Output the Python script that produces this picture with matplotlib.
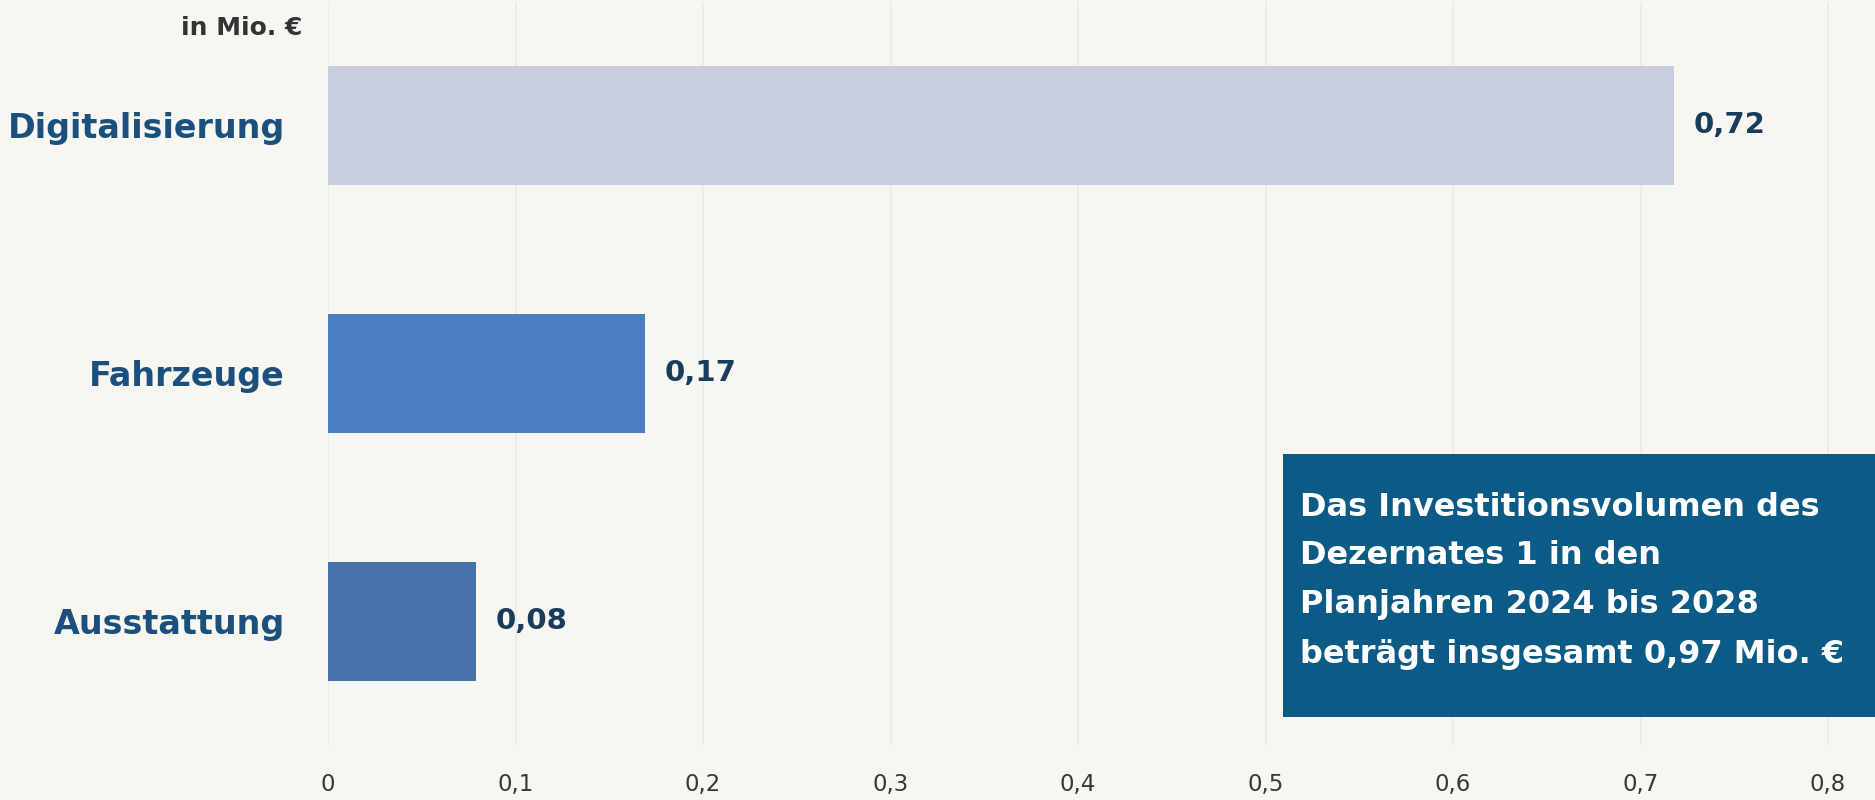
import matplotlib.pyplot as plt
from matplotlib.patches import Rectangle

# data (in Mio. EUR)
categories = ["Digitalisierung", "Fahrzeuge", "Ausstattung"]
values = [0.718, 0.169, 0.079]
bar_colors = ["#c6cedf", "#4a7dc1", "#4870ab"]
xticks = [0, 0.1, 0.2, 0.3, 0.4, 0.5, 0.6, 0.7, 0.8]
xticklabels = ["0", "0,1", "0,2", "0,3", "0,4", "0,5", "0,6", "0,7", "0,8"]
unit_label = "in Mio. €"
box_lines = ["Das Investitionsvolumen des", "Dezernates 1 in den",
             "Planjahren 2024 bis 2028", "beträgt insgesamt 0,97 Mio. €"]

bg = "#f8f6f1"
plt.rcParams['font.family'] = ['DejaVu Sans']

fig = plt.figure(figsize=(18.75, 8), dpi=100, facecolor=bg)
W, H = 1875, 800
ax = fig.add_axes([328 / W, 55 / H, 1 - 328 / W, 743.5 / H])
ax.set_facecolor(bg)

ypos = list(range(len(categories)))
ax.barh(ypos, values, height=0.48, color=bar_colors, zorder=2)
ax.set_ylim(2.5, -0.5)
ax.set_xlim(0, 0.825)

ax.set_yticks(ypos)
ax.set_yticklabels(categories, fontsize=24, fontweight="bold", color="#1b4f7e")
ax.tick_params(axis="y", length=0, pad=31)
ax.set_xticks(xticks)
ax.set_xticklabels(xticklabels, fontsize=16.5, color="#383838")
ax.tick_params(axis="x", length=0, pad=20)

ax.grid(axis="x", color="#ebe9e3", linewidth=1.1, zorder=0)
for s in ax.spines.values():
    s.set_visible(False)

for y, v in zip(ypos, values):
    ax.annotate(f"{v:.2f}".replace(".", ","), (v, y), xytext=(14, 0),
                textcoords="offset points", va="center", ha="left",
                fontsize=21, fontweight="bold", color="#183d5c")

fig.text(302 / W, 1 - 28 / H, unit_label, ha="right", va="center",
         fontsize=18, fontweight="bold", color="#333333")

# info box
bx, btop, bbot = 1283, 454, 717
fig.patches.append(Rectangle((bx / W, 1 - bbot / H), 1 - bx / W, (bbot - btop) / H,
                             transform=fig.transFigure, facecolor="#0c5a86",
                             edgecolor="none", zorder=3))
for i, line in enumerate(box_lines):
    fig.text(1300 / W, 1 - (507 + i * 49) / H, line, ha="left", va="center",
             fontsize=23, fontweight="bold", color="white", zorder=4)

fig.savefig("out.png", dpi=100, facecolor=bg)
